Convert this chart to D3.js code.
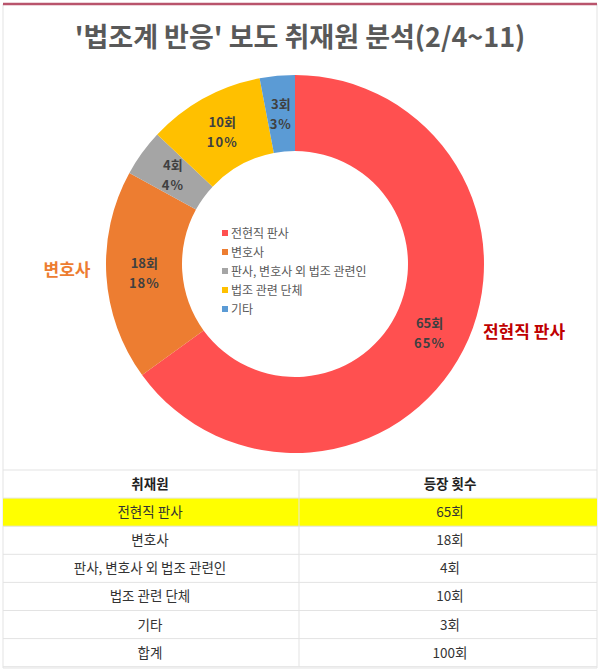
<!DOCTYPE html>
<html>
<head>
<meta charset="utf-8">
<script src="https://cdn.jsdelivr.net/npm/d3@7"></script>
<style>
  html, body { margin: 0; padding: 0; background: #fff; }
  svg { display: block; font-family: "Noto Sans CJK KR", "Noto Sans", sans-serif; }
</style>
</head>
<body>
<svg id="chart" width="600" height="672"></svg>
<script>
// Chart data
const title = "'법조계 반응' 보도 취재원 분석(2/4~11)";
const categories = ["전현직 판사", "변호사", "판사, 변호사 외 법조 관련인", "법조 관련 단체", "기타"];
const counts = [65, 18, 4, 10, 3];
const sliceColors = ["#FF5050", "#ED7D31", "#A5A5A5", "#FFC000", "#5B9BD5"];
// Callouts next to the two largest slices
const callouts = [
  { index: 0, text: "전현직 판사", color: "#C00000" },
  { index: 1, text: "변호사", color: "#ED7D31" }
];
const tableHeader = ["취재원", "등장 횟수"];
const totalLabel = "합계";
const countSuffix = "회";

const width = 600;
const svg = d3.select("#chart");

// Frame: coloured top rule with light grey sides
const frame = { left: 3, right: 597, top: 4, bottom: 668 };
svg.append("path")
  .attr("d", `M${frame.left},${frame.top}V${frame.bottom}H${frame.right}V${frame.top}`)
  .attr("fill", "none")
  .attr("stroke", "#e3e3e3")
  .attr("stroke-width", 1);
svg.append("line")
  .attr("x1", frame.left).attr("x2", frame.right)
  .attr("y1", frame.top).attr("y2", frame.top)
  .attr("stroke", "#B9546C")
  .attr("stroke-width", 2.5);

// Title
svg.append("text")
  .attr("x", width / 2)
  .attr("y", 47)
  .attr("text-anchor", "middle")
  .attr("font-size", 27)
  .attr("font-weight", "bold")
  .attr("fill", "#595959")
  .text(title);

/* Donut */
const center = { x: 295, y: 264 };
const outerRadius = 189;
const innerRadius = 113;
const total = d3.sum(counts);

const pie = d3.pie().sort(null).value(d => d);
const arcs = pie(counts);
const arc = d3.arc().innerRadius(innerRadius).outerRadius(outerRadius);
const labelArc = d3.arc().innerRadius((innerRadius + outerRadius) / 2).outerRadius((innerRadius + outerRadius) / 2);

const donut = svg.append("g").attr("transform", `translate(${center.x},${center.y})`);

donut.selectAll("path")
  .data(arcs)
  .join("path")
  .attr("d", arc)
  .attr("fill", (d, i) => sliceColors[i]);

// Slice labels: count and percentage on two lines
const sliceLabels = donut.selectAll("text.slice-label")
  .data(arcs)
  .join("text")
  .attr("class", "slice-label")
  .attr("transform", d => `translate(${labelArc.centroid(d)})`)
  .attr("text-anchor", "middle")
  .attr("font-size", 13)
  .attr("font-weight", "bold")
  .attr("fill", "#404040");
sliceLabels.append("tspan")
  .attr("x", 0).attr("y", -5)
  .text(d => `${d.data}${countSuffix}`);
sliceLabels.append("tspan")
  .attr("x", 0).attr("y", 15)
  .attr("letter-spacing", 1)
  .text(d => `${Math.round(d.data / total * 100)}%`);

// Callouts outside the ring
const calloutPos = [
  { x: 524, y: 338 },
  { x: 67, y: 276 }
];
svg.selectAll("text.callout")
  .data(callouts)
  .join("text")
  .attr("class", "callout")
  .attr("x", (d, i) => calloutPos[i].x)
  .attr("y", (d, i) => calloutPos[i].y)
  .attr("text-anchor", "middle")
  .attr("font-size", 17)
  .attr("font-weight", "bold")
  .attr("fill", d => d.color)
  .text(d => d.text);

// Legend inside the hole
const legendY = d3.scalePoint().domain(categories).range([233, 309]);
const legend = svg.append("g").selectAll("g")
  .data(categories)
  .join("g")
  .attr("transform", d => `translate(222,${legendY(d)})`);
legend.append("rect")
  .attr("x", 0).attr("y", -3)
  .attr("width", 6).attr("height", 6)
  .attr("fill", (d, i) => sliceColors[i]);
legend.append("text")
  .attr("x", 9)
  .attr("y", 4.5)
  .attr("font-size", 12)
  .attr("fill", "#595959")
  .text(d => d);

/* Table */
const tableTop = 470;
const rowHeight = 28.1;
const rows = categories.map((c, i) => [c, `${counts[i]}${countSuffix}`])
  .concat([[totalLabel, `${total}${countSuffix}`]]);
const allRows = [tableHeader].concat(rows);
const colX = [150, 450];

const table = svg.append("g");
// highlight the leading category
table.append("rect")
  .attr("x", frame.left)
  .attr("y", tableTop + rowHeight)
  .attr("width", frame.right - frame.left)
  .attr("height", rowHeight)
  .attr("fill", "#FFFF00");

table.selectAll("line.row")
  .data(d3.range(allRows.length + 1))
  .join("line")
  .attr("class", "row")
  .attr("x1", frame.left).attr("x2", frame.right)
  .attr("y1", i => tableTop + i * rowHeight)
  .attr("y2", i => tableTop + i * rowHeight)
  .attr("stroke", "#e3e3e3");
table.append("line")
  .attr("x1", 299).attr("x2", 299)
  .attr("y1", tableTop).attr("y2", tableTop + allRows.length * rowHeight)
  .attr("stroke", "#e3e3e3");

allRows.forEach((row, r) => {
  row.forEach((cell, c) => {
    table.append("text")
      .attr("x", colX[c])
      .attr("y", tableTop + r * rowHeight + rowHeight / 2 + 5)
      .attr("text-anchor", "middle")
      .attr("font-size", 13.5)
      .attr("font-weight", r === 0 ? "bold" : "normal")
      .attr("fill", r === 0 ? "#222" : "#333")
      .text(cell);
  });
});
</script>
</body>
</html>
